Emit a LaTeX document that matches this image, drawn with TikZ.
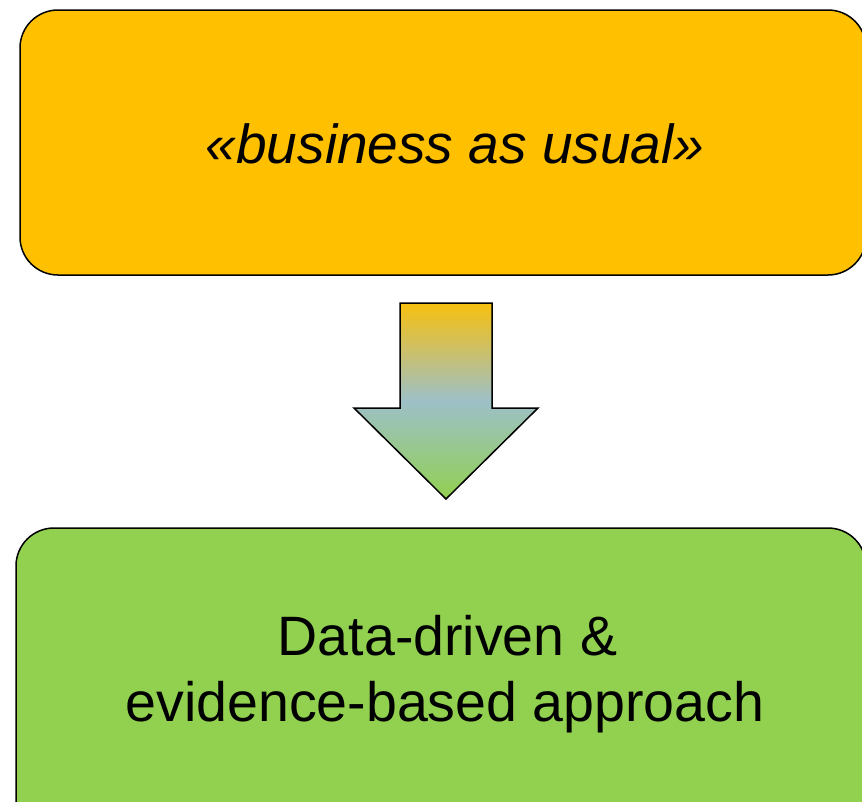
\documentclass[tikz,border=0pt]{standalone}
\usepackage{fontspec}
\setmainfont{Liberation Sans}
\definecolor{boxorange}{HTML}{FFC000}
\definecolor{boxgreen}{HTML}{92D050}
\definecolor{arrtop}{HTML}{F7C010}
\definecolor{arrmid}{HTML}{9DC0C8}
\definecolor{arrbot}{HTML}{92D050}
\tikzset{
  roundbox/.style={draw=black, line width=1.5pt, rounded corners=38pt, inner sep=0pt},
  toptextstyle/.style={font=\fontsize{55}{66}\selectfont, inner sep=0pt, anchor=base},
  bigtext/.style={font=\fontsize{55.5}{66}\selectfont, inner sep=0pt, anchor=base},
  blockarrow/.style={draw=black, line width=1.5pt, top color=arrtop, bottom color=arrbot, middle color=arrmid}
}
\begin{document}
\begin{tikzpicture}[x=1pt,y=-1pt]
\useasboundingbox (0,0) rectangle (862,801);
\clip (0,0) rectangle (862,801);
\node[roundbox, fill=boxorange, minimum width=846pt, minimum height=265pt] (topbox) at (443,142.5) {};
\node[toptextstyle] (toptext) at (455,163.3) {\itshape «business as usual»};
\node[roundbox, fill=boxgreen, minimum width=850pt, minimum height=322pt] (botbox) at (441,689) {};
\node[bigtext] (bottext1) at (447.5,655) {Data-driven \&};
\node[bigtext] (bottext2) at (445,721.7) {evidence-based approach};
\draw[blockarrow] (400,303) -- (492,303) -- (492,408) -- (538,408) -- (446,499) -- (354,408) -- (400,408) -- cycle;
\end{tikzpicture}
\end{document}
